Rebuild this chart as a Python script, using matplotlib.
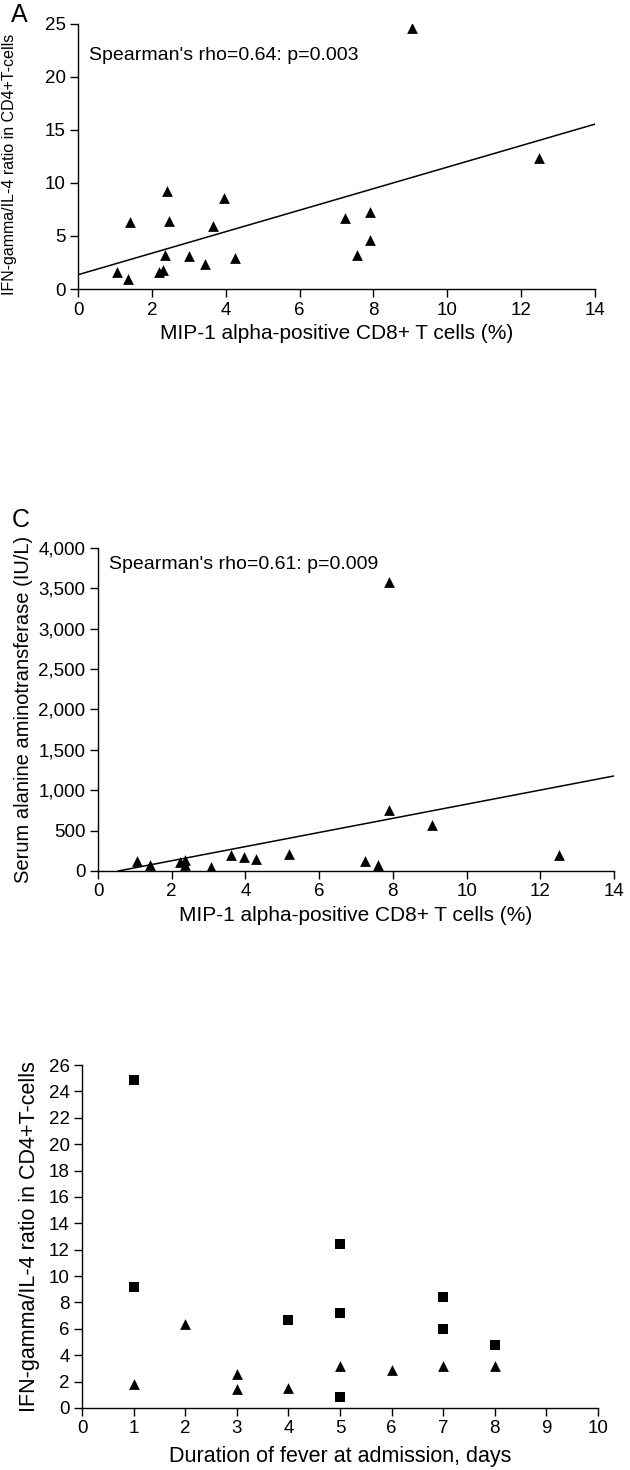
import matplotlib
matplotlib.use("Agg")
import matplotlib.pyplot as plt
from matplotlib.ticker import FuncFormatter
import numpy as np

# Panel A: MIP-1 alpha+ CD8 vs IFN-gamma/IL-4 ratio
a_x = [1.05, 1.35, 1.4, 2.2, 2.3, 2.35, 2.4, 2.46, 3.0, 3.45, 3.65, 3.96, 4.25, 7.23, 7.55, 7.91, 7.9, 9.05, 12.5]
a_y = [1.6, 0.9, 6.36, 1.6, 1.8, 3.2, 9.29, 6.43, 3.1, 2.4, 5.95, 8.55, 2.9, 6.67, 3.2, 7.31, 4.6, 24.6, 12.4]
a_fit = (1.35, 1.014)  # intercept, slope

# Panel C: MIP-1 alpha+ CD8 vs serum ALT
c_x = [1.06, 1.42, 2.23, 2.36, 2.36, 3.06, 3.6, 3.96, 4.29, 5.19, 7.25, 7.59, 7.9, 7.9, 9.07, 12.5]
c_y = [124, 75, 113, 132, 75, 49, 192, 169, 150, 207, 124, 68, 3575, 752, 564, 199]
c_fit = (-48.0, 87.5)

# Panel E: duration of fever vs ratio
e_sq_x = [1, 1, 4, 5, 5, 5, 7, 7, 8]
e_sq_y = [24.9, 9.2, 6.7, 12.45, 7.2, 0.86, 8.4, 6.0, 4.75]
e_tri_x = [1, 2, 3, 3, 4, 5, 6, 7, 8]
e_tri_y = [1.8, 6.33, 2.6, 1.43, 1.48, 3.2, 2.9, 3.2, 3.2]

FONT = ['Liberation Sans', 'DejaVu Sans']
plt.rcParams['font.family'] = FONT
plt.rcParams['axes.linewidth'] = 1.0

fig = plt.figure(figsize=(6.3, 14.7), dpi=100)


def style(ax):
    ax.spines['top'].set_visible(False)
    ax.spines['right'].set_visible(False)
    ax.tick_params(direction='out', length=6, width=1, labelsize=13.5, pad=3)


# --- A ---
axA = fig.add_axes([0.124, 0.8034, 0.820, 0.1803])
axA.scatter(a_x, a_y, marker='^', s=60, color='black', linewidths=0, zorder=3)
xx = np.array([0, 14])
axA.plot(xx, a_fit[0] + a_fit[1] * xx, color='black', lw=1.1)
axA.set_xlim(0, 14)
axA.set_ylim(0, 25)
axA.set_xticks(range(0, 15, 2))
axA.set_yticks(range(0, 26, 5))
style(axA)
axA.set_xlabel('MIP-1 alpha-positive CD8+ T cells (%)', fontsize=15, labelpad=4)
axA.set_ylabel('IFN-gamma/IL-4 ratio in CD4+T-cells', fontsize=11.5)
axA.yaxis.set_label_coords(-0.118, 0.47)
axA.text(0.3, 22.0, "Spearman's rho=0.64: p=0.003", fontsize=14, va='center', ha='left')
fig.text(0.018, 0.99, 'A', fontsize=18, va='center', ha='left')

# --- C ---
axC = fig.add_axes([0.1556, 0.4075, 0.819, 0.2197])
axC.scatter(c_x, c_y, marker='^', s=60, color='black', linewidths=0, zorder=3)
xc = np.array([-c_fit[0] / c_fit[1], 14])
axC.plot(xc, c_fit[0] + c_fit[1] * xc, color='black', lw=1.1)
axC.set_xlim(0, 14)
axC.set_ylim(0, 4000)
axC.set_xticks(range(0, 15, 2))
axC.set_yticks(range(0, 4001, 500))
axC.yaxis.set_major_formatter(FuncFormatter(lambda v, p: f'{int(v):,}'))
style(axC)
axC.set_xlabel('MIP-1 alpha-positive CD8+ T cells (%)', fontsize=15, labelpad=4)
axC.set_ylabel('Serum alanine aminotransferase (IU/L)', fontsize=14.5, labelpad=4)
axC.text(0.3, 3800, "Spearman's rho=0.61: p=0.009", fontsize=14, va='center', ha='left')
fig.text(0.018, 0.646, 'C', fontsize=18, va='center', ha='left')

# --- E ---
axE = fig.add_axes([0.1302, 0.0422, 0.819, 0.2333])
axE.scatter(e_sq_x, e_sq_y, marker='s', s=45, color='black', linewidths=0, zorder=3)
axE.scatter(e_tri_x, e_tri_y, marker='^', s=60, color='black', linewidths=0, zorder=3)
axE.set_xlim(0, 10)
axE.set_ylim(0, 26)
axE.set_xticks(range(0, 11))
axE.set_yticks(range(0, 27, 2))
style(axE)
axE.set_xlabel('Duration of fever at admission, days', fontsize=15.5, labelpad=6)
axE.set_ylabel('IFN-gamma/IL-4 ratio in CD4+T-cells', fontsize=15.5, labelpad=6)

fig.savefig('out.png', dpi=100)
